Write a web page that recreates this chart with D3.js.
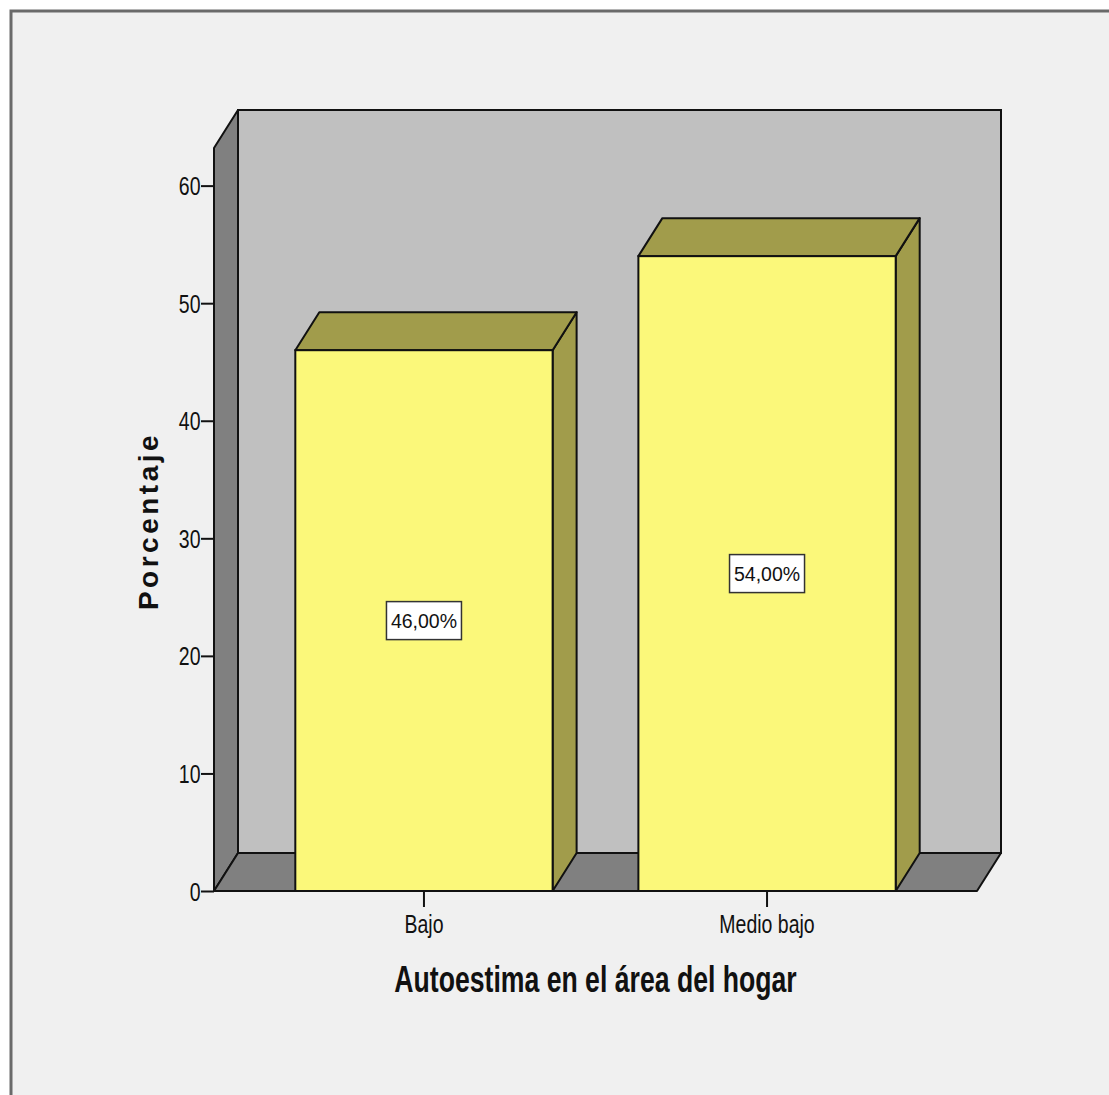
<!DOCTYPE html>
<html>
<head>
<meta charset="utf-8">
<script src="https://cdn.jsdelivr.net/npm/d3@7"></script>
<style>
  body { margin: 0; background: #ffffff; }
  text { font-family: "Liberation Sans", Arial, sans-serif; fill: #111; }
</style>
</head>
<body>
<svg id="chart" width="1109" height="1095"></svg>
<script>
// Data
const categories = ["Bajo", "Medio bajo"];
const percentages = [46, 54];
const yTicks = [0, 10, 20, 30, 40, 50, 60];
const yMax = 63.2;
const xTitle = "Autoestima en el área del hogar";
const yTitle = "Porcentaje";

const esLocale = d3.formatLocale({ decimal: ",", thousands: ".", grouping: [3], currency: ["", "€"] });
const fmtPct = v => esLocale.format(".2f")(v) + "%";

const svg = d3.select("#chart");

// Panel background and frame
svg.append("rect")
  .attr("x", 11).attr("y", 11).attr("width", 1120).attr("height", 1100)
  .attr("fill", "#f0f0f0").attr("stroke", "#6a6a6a").attr("stroke-width", 3);

// Plot geometry (front plane + depth offset of the 3D box)
const x0 = 214, x1 = 977, yBase = 891, yTop = 148, dx = 24, dy = -38;
const y = d3.scaleLinear().domain([0, yMax]).range([yBase, yTop]);
const x = d3.scaleBand().domain(categories).range([x0, x1])
  .paddingInner(0.25).paddingOuter(0.237);

const line = d3.line();
const edge = "#111";

// Back wall
svg.append("rect")
  .attr("x", x0 + dx).attr("y", y(yMax) + dy)
  .attr("width", x1 - x0).attr("height", y(0) - y(yMax))
  .attr("fill", "#c0c0c0").attr("stroke", edge).attr("stroke-width", 2);

// Left wall
svg.append("path")
  .attr("d", line([[x0, y(0)], [x0, y(yMax)], [x0 + dx, y(yMax) + dy], [x0 + dx, y(0) + dy]]) + "Z")
  .attr("fill", "#808080").attr("stroke", edge).attr("stroke-width", 2).attr("stroke-linejoin", "round");

// Floor
svg.append("path")
  .attr("d", line([[x0, y(0)], [x0 + dx, y(0) + dy], [x1 + dx, y(0) + dy], [x1, y(0)]]) + "Z")
  .attr("fill", "#808080").attr("stroke", edge).attr("stroke-width", 2).attr("stroke-linejoin", "round");

// Bars
const bars = svg.append("g").selectAll("g")
  .data(categories.map((c, i) => ({ c, v: percentages[i] })))
  .join("g");

bars.each(function (d) {
  const g = d3.select(this);
  const xl = x(d.c), xr = x(d.c) + x.bandwidth(), yt = y(d.v), yb = y(0);
  // side face
  g.append("path")
    .attr("d", line([[xr, yt], [xr + dx, yt + dy], [xr + dx, yb + dy], [xr, yb]]) + "Z")
    .attr("fill", "#a19c4b").attr("stroke", edge).attr("stroke-width", 2).attr("stroke-linejoin", "round");
  // top face
  g.append("path")
    .attr("d", line([[xl, yt], [xl + dx, yt + dy], [xr + dx, yt + dy], [xr, yt]]) + "Z")
    .attr("fill", "#a19c4b").attr("stroke", edge).attr("stroke-width", 2).attr("stroke-linejoin", "round");
  // front face
  g.append("rect")
    .attr("x", xl).attr("y", yt).attr("width", x.bandwidth()).attr("height", yb - yt)
    .attr("fill", "#fbf87a").attr("stroke", edge).attr("stroke-width", 2);

  // value label box
  const cx = xl + x.bandwidth() / 2, cy = y(d.v / 2);
  g.append("rect")
    .attr("x", cx - 37.5).attr("y", cy - 19).attr("width", 75).attr("height", 38)
    .attr("fill", "#ffffff").attr("stroke", "#333").attr("stroke-width", 1.5);
  g.append("text")
    .attr("x", cx).attr("y", cy + 7)
    .attr("text-anchor", "middle").attr("font-size", 19.5)
    .text(fmtPct(d.v));
});

// Y axis
const yAxis = svg.append("g")
  .attr("transform", `translate(${x0},0)`)
  .call(d3.axisLeft(y).tickValues(yTicks).tickSize(13).tickPadding(0).tickFormat(d3.format("d")));
yAxis.select(".domain").remove();
yAxis.selectAll(".tick line").attr("stroke", edge).attr("stroke-width", 2);
yAxis.selectAll(".tick text")
  .attr("font-size", 25).attr("font-family", "Liberation Sans, Arial, sans-serif").attr("fill", "#111")
  .attr("dy", null).attr("dominant-baseline", null)
  .attr("transform", "translate(-13.5, 9) scale(0.78,1)")
  .attr("x", 0).attr("y", 0);

// X axis
const xAxis = svg.append("g")
  .attr("transform", `translate(0,${yBase})`)
  .call(d3.axisBottom(x).tickSize(16).tickPadding(0));
xAxis.select(".domain").remove();
xAxis.selectAll(".tick line").attr("stroke", edge).attr("stroke-width", 2);
xAxis.selectAll(".tick text")
  .attr("font-size", 25).attr("font-family", "Liberation Sans, Arial, sans-serif").attr("fill", "#111")
  .attr("dy", null).attr("x", 0).attr("y", 0)
  .attr("transform", "translate(0, 42) scale(0.78,1)");

// Axis titles
svg.append("text")
  .attr("transform", `translate(${(x0 + x1) / 2},992) scale(0.72,1)`)
  .attr("text-anchor", "middle").attr("font-size", 37).attr("font-weight", "bold")
  .text(xTitle);

svg.append("text")
  .attr("transform", "translate(158,521) rotate(-90)")
  .attr("text-anchor", "middle").attr("font-size", 28).attr("font-weight", "bold")
  .attr("letter-spacing", 3.5)
  .text(yTitle);
</script>
</body>
</html>
